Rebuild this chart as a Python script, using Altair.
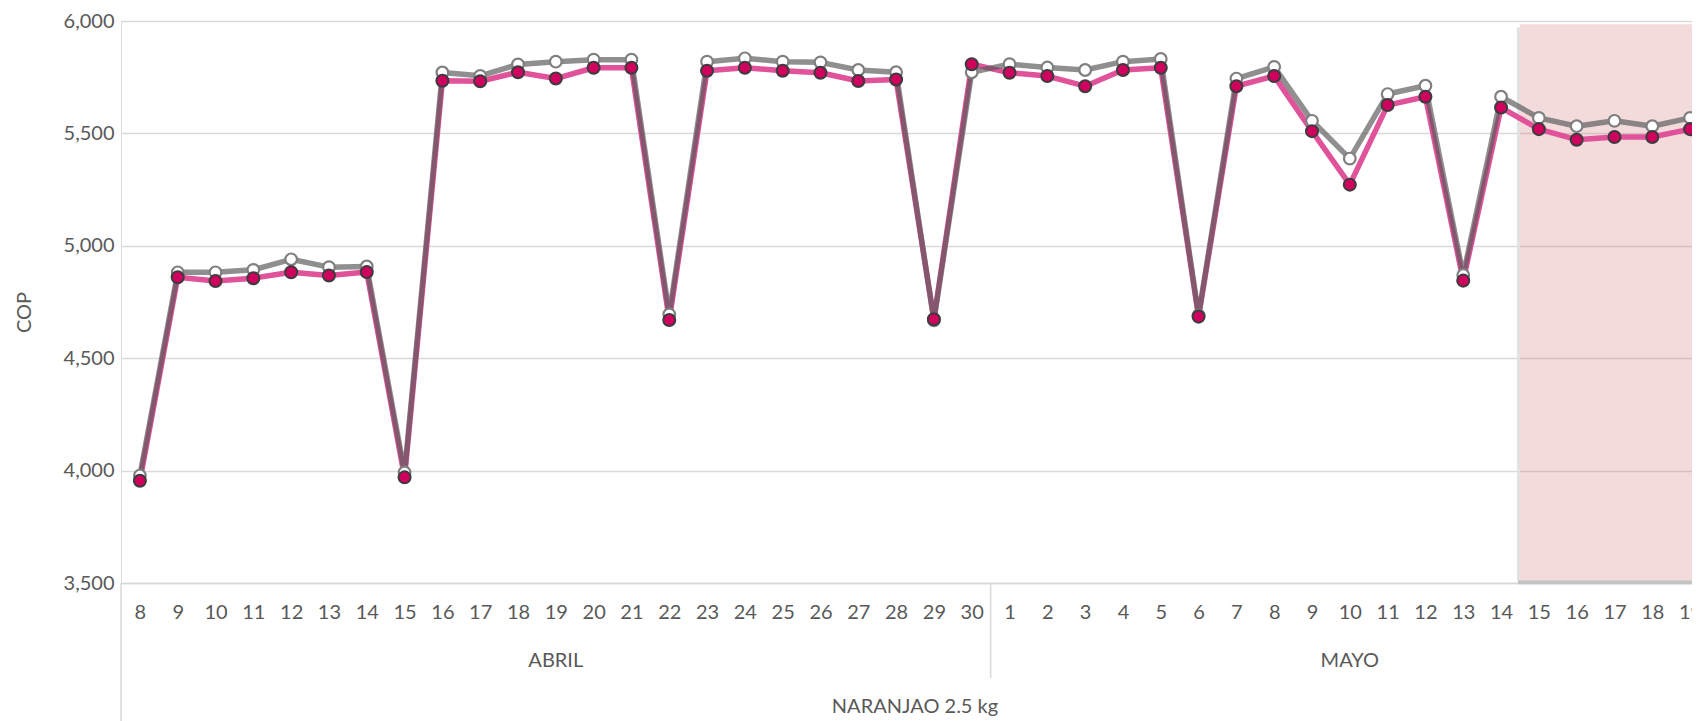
import json
import altair as alt
import pandas as pd

# ---------------- data ----------------
months = ["ABRIL", "MAYO"]
april_days = [str(d) for d in range(8, 31)]
may_days = [str(d) for d in range(1, 20)]

pink_april = [3955, 4860, 4843, 4856, 4882, 4868, 4883, 3970, 5734, 5732, 5772, 5744,
              5792, 5792, 4670, 5779, 5792, 5779, 5770, 5733, 5740, 4673, 5808]
gray_april = [3978, 4882, 4882, 4893, 4940, 4905, 4908, 3992, 5771, 5756, 5807, 5819,
              5828, 5828, 4695, 5819, 5834, 5819, 5816, 5782, 5772, 4668, 5772]
pink_may = [5770, 5755, 5710, 5782, 5792, 4685, 5710, 5755, 5510, 5272, 5626, 5663,
            4845, 5615, 5519, 5472, 5484, 5484, 5519]
gray_may = [5808, 5793, 5782, 5819, 5831, 4690, 5744, 5796, 5556, 5388, 5675, 5712,
            4870, 5663, 5569, 5532, 5556, 5532, 5569]

group_label = "NARANJAO 2.5 kg"
y_title = "COP"
y_ticks = [3500, 4000, 4500, 5000, 5500, 6000]
highlight_from = ("MAYO", "15")
highlight_to = ("MAYO", "19")
highlight_top, highlight_bottom = 5986, 3512

# ---------------- tables ----------------
rows = []
for m, days, pk, gr in [("ABRIL", april_days, pink_april, gray_april),
                        ("MAYO", may_days, pink_may, gray_may)]:
    for d, p, g in zip(days, pk, gr):
        rows.append({"month": m, "day": d, "pink": p, "gray": g})
df = pd.DataFrame(rows)
df["pos"] = [i + 0.5 for i in range(len(df))]
N = len(df)
day_labels = list(df["day"])

month_rows = []
start = 0
for m, days in [("ABRIL", april_days), ("MAYO", may_days)]:
    month_rows.append({"month": m, "start": start, "center": start + len(days) / 2})
    start += len(days)
mdf = pd.DataFrame(month_rows)
sep_inner = pd.DataFrame({"b": list(mdf["start"])[1:]})
sep_outer = pd.DataFrame({"b": [0, N]})
gdf = pd.DataFrame({"label": [group_label], "center": [N / 2]})

def idx(mon, day):
    return int(df.index[(df["month"] == mon) & (df["day"] == day)][0])

hdf = pd.DataFrame({"x0": [idx(*highlight_from)], "x1": [idx(*highlight_to) + 1],
                    "top": [highlight_top], "bottom": [highlight_bottom]})

# ---------------- encodings ----------------
FONT = "Lato"
TXT = "#595959"
GRID = "#d9d9d9"

PLOT_W = 1571      # visible plot width (the page crops the rest, as in the reference)
FULL_W = 1588      # full category axis length

xscale = alt.Scale(domain=[0, N], range=[0, FULL_W], nice=False, zero=False)
yscale = alt.Scale(domain=[3500, 6000], nice=False, zero=False)

label_expr = json.dumps(day_labels) + "[floor(datum.value)]"
x_axis = alt.Axis(values=[i + 0.5 for i in range(N)], labelExpr=label_expr, labelAngle=0,
                  ticks=False, grid=False, domainColor=GRID, domainWidth=1.5,
                  labelFont=FONT, labelFontSize=20, labelColor=TXT, labelPadding=19,
                  labelOverlap=False, labelBound=False, labelFlush=False, title=None)
y_axis = alt.Axis(values=y_ticks, format=",.0f", grid=True, gridColor=GRID, gridWidth=1.5,
                  domain=False, ticks=False, labelPadding=7, labelFont=FONT,
                  labelFontSize=20, labelColor=TXT, title=y_title, titleFont=FONT,
                  titleFontSize=20, titleFontWeight="normal", titleColor=TXT,
                  titleX=-97, titleY=291, titleAlign="center", titleBaseline="middle")

def X(field):
    return alt.X(field, scale=xscale, axis=x_axis)

def Y(field):
    return alt.Y(field, scale=yscale, axis=y_axis)

base = alt.Chart(df)

pink_line = base.mark_line(color="#e0529a", strokeWidth=5.5, strokeJoin="round",
                           strokeCap="round").encode(x=X("pos:Q"), y=Y("pink:Q"))
gray_line = base.mark_line(color="#5a5a5a", opacity=0.68, strokeWidth=5.5,
                           strokeJoin="round", strokeCap="round").encode(
    x=X("pos:Q"), y=Y("gray:Q"))
gray_pts = base.mark_point(shape="circle", filled=True, fill="white", stroke="#7f7f7f",
                           strokeWidth=2.2, size=135, opacity=1).encode(
    x=X("pos:Q"), y=Y("gray:Q"))
pink_pts = base.mark_point(shape="circle", filled=True, fill="#d0005e", stroke="#3d3d3d",
                           strokeWidth=2, size=145, opacity=1).encode(
    x=X("pos:Q"), y=Y("pink:Q"))

hb = alt.Chart(hdf)
shadow_left = hb.mark_rule(color="#e2e2e2", strokeWidth=3, xOffset=-1.5, yOffset=3).encode(
    x=X("x0:Q"), y=Y("top:Q"), y2="bottom:Q")
shadow_bottom = hb.mark_rule(color="#c4c4c4", strokeWidth=4, yOffset=2, xOffset=-2).encode(
    x=X("x0:Q"), x2="x1:Q", y=Y("bottom:Q"))
rect = hb.mark_rect(color="#d27a7e", opacity=0.27).encode(
    x=X("x0:Q"), x2="x1:Q", y=Y("top:Q"), y2="bottom:Q")

outer = alt.Chart(sep_outer).mark_rule(color=GRID, strokeWidth=1.5).encode(
    x=X("b:Q"), y=alt.value(562), y2=alt.value(710))
inner = alt.Chart(sep_inner).mark_rule(color=GRID, strokeWidth=1.5).encode(
    x=X("b:Q"), y=alt.value(562), y2=alt.value(657))
mtext = alt.Chart(mdf).mark_text(font=FONT, fontSize=20, color=TXT, baseline="middle").encode(
    x=X("center:Q"), y=alt.value(640), text="month:N")
gtext = alt.Chart(gdf).mark_text(font=FONT, fontSize=20, color=TXT, baseline="middle").encode(
    x=X("center:Q"), y=alt.value(686), text="label:N")

chart = alt.layer(
    rect, shadow_left, shadow_bottom, pink_line, gray_line, gray_pts, pink_pts,
    outer, inner, mtext, gtext
).properties(
    width=PLOT_W, height=562,
    padding={"left": 113, "top": 13, "right": 0, "bottom": 140},
    autosize=alt.AutoSizeParams(type="none"),
).configure_view(stroke=None).configure(background="white")

chart.save("out.html", embed_options={"renderer": "svg", "actions": False})
